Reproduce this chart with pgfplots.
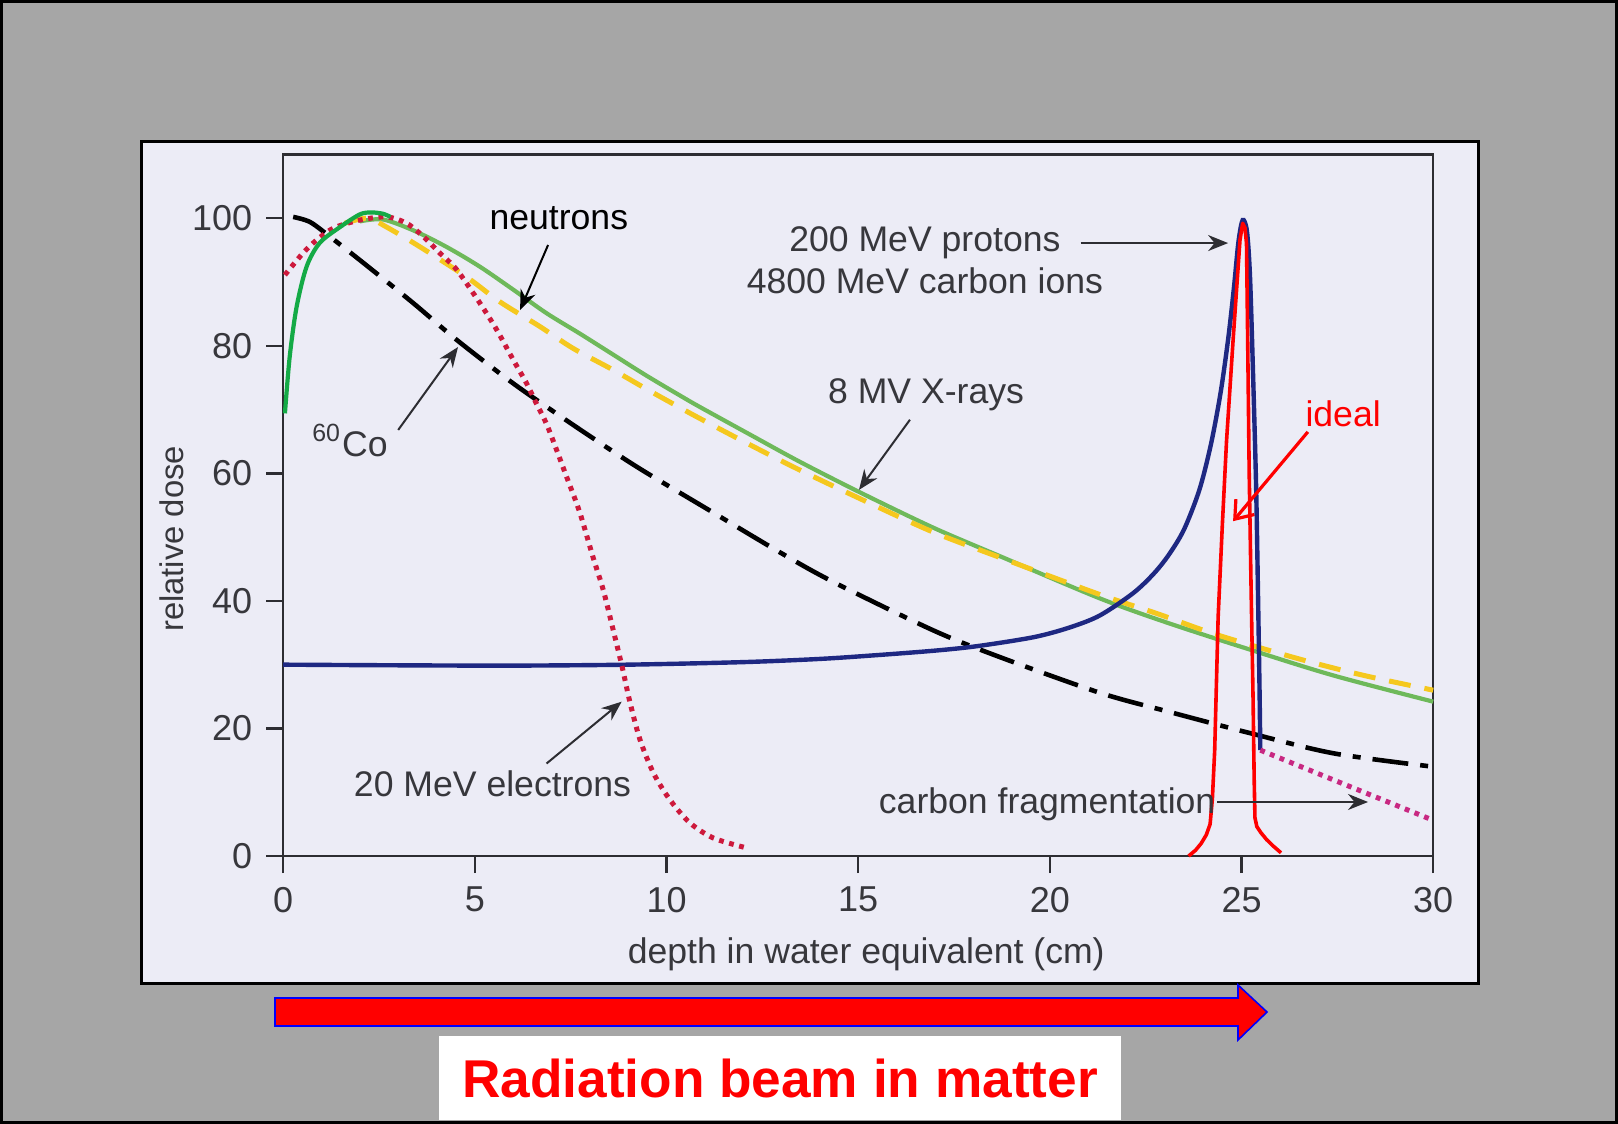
\documentclass[border=0pt]{standalone}
\usepackage{pgfplots}
\pgfplotsset{compat=1.18}
\usepackage{fontspec}
\setmainfont{Liberation Sans}
\usetikzlibrary{arrows.meta}

\definecolor{bggray}{RGB}{166,166,166}
\definecolor{panel}{RGB}{236,236,246}
\definecolor{textgray}{RGB}{55,55,60}
\definecolor{axisgray}{RGB}{45,45,50}
\definecolor{xgreen}{RGB}{110,185,90}
\definecolor{xgreendark}{RGB}{20,170,70}
\definecolor{nyellow}{RGB}{245,200,30}
\definecolor{ecrimson}{RGB}{205,25,60}
\definecolor{pnavy}{RGB}{30,40,130}
\definecolor{cmagenta}{RGB}{200,40,130}

\newcommand{\annfont}{\fontsize{8.9pt}{10pt}\selectfont}

\begin{document}
\begin{tikzpicture}
% slide background, panel and beam arrow (1 px = 0.25pt)
\begin{scope}[x=0.25pt,y=-0.25pt]
  \fill[bggray] (0,0) rectangle (1618,1124);
  \draw[black,line width=0.75pt] (1.5,1.5) rectangle (1616.5,1122.5);
  \filldraw[fill=panel,draw=black,line width=0.75pt] (141,141) rectangle (1478,983);
  \filldraw[fill=red,draw=blue,line width=0.4pt]
    (275,998) -- (1238,998) -- (1238,985) -- (1267,1012) -- (1238,1040)
    -- (1238,1026) -- (275,1026) -- cycle;
  \fill[white] (439,1036) rectangle (1121,1120);
  \node[text=red,font=\fontsize{13.3pt}{15pt}\selectfont\bfseries] at (780,1078) {Radiation beam in matter};
\end{scope}

\begin{axis}[
  at={(70.8pt,-214pt)}, anchor=south west,
  scale only axis, width=287.5pt, height=175.4pt,
  xmin=0, xmax=30, ymin=0, ymax=110,
  xtick={0,5,...,30}, ytick={0,20,...,100},
  xtick pos=bottom, ytick pos=left,
  tick align=outside, major tick length=4.25pt,
  axis line style={line width=0.6pt,draw=axisgray},
  tick style={line width=0.6pt,draw=axisgray},
  ticklabel style={font=\fontsize{9pt}{10pt}\selectfont,text=textgray},
  /pgf/number format/assume math mode=true,
  xlabel={depth in water equivalent (cm)},
  ylabel={relative dose},
  xlabel style={at={(axis description cs:0.507,-0.1405)},anchor=center,
    font=\fontsize{8.9pt}{10pt}\selectfont,text=textgray},
  ylabel style={at={(axis description cs:-0.0968,0.452)},anchor=center,
    font=\fontsize{8.2pt}{10pt}\selectfont,text=textgray},
  clip=false,
]
% 8 MV X-rays, tail
\addplot[xgreen,line width=1.05pt,smooth] coordinates {
  (2.0,99.5)(2.6,99.8)(3.39,98.1)(4.26,95.5)(5.13,92.4)(6.0,88.8)(6.87,85.1)
  (7.74,81.9)(8.61,78.6)(9.48,75.3)(10.35,72.2)(10.87,70.4)(12.2,66.0)(13.48,61.8)
  (15.05,57.0)(16.95,51.5)(18.7,47.0)(21.3,40.4)(23.05,36.6)(25.2,32.4)(27.4,28.3)(30,24.2)};
% neutrons
\addplot[nyellow,line width=1.25pt,smooth,dash pattern=on 5.5pt off 3.5pt] coordinates {
  (1.6,99.2)(2.2,100.0)(2.7,98.6)(3.57,95.5)(4.78,90.8)(5.65,86.9)(6.7,83.0)
  (7.56,79.6)(8.61,76.2)(9.48,73.2)(10.35,70.3)(10.87,68.6)(12.2,64.4)(13.48,60.5)
  (15.2,55.6)(16.95,50.8)(18.7,46.8)(21.3,41.0)(22.8,38.0)(24.35,34.7)(26.5,30.9)
  (28.2,28.3)(30,26.0)};
% 60Co
\addplot[black,line width=1.15pt,smooth,dash pattern=on 9pt off 3pt on 2pt off 3pt] coordinates {
  (0.26,100.2)(0.7,99.4)(1.22,97.1)(2.09,93.0)(3.39,86.7)(4.53,80.9)(6.0,74.1)
  (7.39,68.3)(8.61,63.4)(9.5,60.0)(11.23,53.8)(12.96,47.6)(14.34,43.0)(16.95,35.4)
  (18.69,31.2)(21.3,25.6)(23.05,22.7)(25.2,19.3)(27.4,16.1)(30,14.0)};
% protons
\addplot[pnavy,line width=1.1pt,smooth] coordinates {
  (0,30.0)(3,29.9)(6,29.85)(9,30.0)(12,30.4)(14,30.9)(15.5,31.5)(17,32.2)(18.1,32.9)
  (19.57,34.3)(20.5,35.8)(21.3,37.7)(22.17,41.2)(22.7,44.2)(23.1,47.2)(23.5,51.2)
  (23.9,57.4)(24.2,64.5)(24.45,72.5)(24.65,81)(24.8,89)(24.92,96.3)(25.03,99.7)
  (25.14,98.0)(25.22,91)(25.3,75.7)(25.38,58)(25.43,41)(25.47,26)(25.49,16.6)};
% 20 MeV electrons
\addplot[ecrimson,line width=1.25pt,smooth,dash pattern=on 1.2pt off 1.4pt] coordinates {
  (0.045,91.1)(0.44,94.0)(0.78,96.1)(1.3,98.4)(2.0,99.7)(2.7,100.2)(3.22,99.2)
  (3.66,97.1)(4.09,94.5)(4.53,91.9)(5.13,86.7)(5.57,82.5)(6.0,77.8)(6.35,74.1)
  (6.6,71.0)(6.9,67.3)(7.39,59.5)(7.74,53.8)(8.08,46.9)(8.35,41.7)(8.61,35.4)
  (8.84,29.7)(9.05,24.0)(9.31,18.2)(9.66,13.0)(10.09,8.8)(10.61,5.2)(11.23,2.8)(12.1,1.25)};
% 8 MV X-rays, build-up
\addplot[xgreendark,line width=1.05pt,smooth] coordinates {
  (0.045,69.4)(0.17,78.3)(0.35,86.1)(0.61,92.4)(0.95,96.1)(1.48,98.6)(2.0,100.6)
  (2.3,100.9)(2.6,100.7)(2.8,100.2)};
% carbon fragmentation tail
\addplot[cmagenta,line width=1.25pt,dash pattern=on 1.2pt off 1.4pt] coordinates {
  (25.49,16.6)(27.7,11.2)(30,5.6)};
% ideal
\addplot[red,line width=0.9pt,line join=round] coordinates {
  (23.62,0)(23.8,0.9)(23.95,2.0)(24.08,3.3)(24.18,5.0)(24.24,9)(24.3,16.6)(24.39,37.5)
  (24.5,52)(24.61,65.2)(24.78,80.9)(24.96,96.6)(25.03,99.2)(25.09,98.5)(25.13,96.0)
  (25.16,81)(25.2,60)(25.25,41.7)(25.3,25)(25.33,12)(25.35,6.0)(25.4,4.6)(25.5,3.7)
  (25.65,2.6)(25.82,1.6)(26.03,0.5)};

% annotations
\node[font=\annfont,text=black,anchor=center] at (axis cs:7.19,100.05) {neutrons};
\draw[black,line width=0.5pt,-{Stealth[length=5pt,width=4pt]}] (axis cs:6.91,95.8) -- (axis cs:6.18,85.6);
\node[font=\annfont,text=textgray,anchor=base west,inner sep=0pt] at (axis cs:0.74,62.6) {\textsuperscript{60}Co};
\draw[axisgray,line width=0.5pt,-{Stealth[length=5pt,width=4pt]}] (axis cs:3.0,66.8) -- (axis cs:4.56,79.8);
\node[font=\annfont,text=textgray,anchor=base,inner sep=0pt] at (axis cs:16.74,94.76) {200 MeV protons};
\node[font=\annfont,text=textgray,anchor=base,inner sep=0pt] at (axis cs:16.74,88.24) {4800 MeV carbon ions};
\draw[axisgray,line width=0.5pt,-{Stealth[length=5pt,width=4pt]}] (axis cs:20.8,96.1) -- (axis cs:24.65,96.1);
\node[font=\annfont,text=textgray,anchor=base,inner sep=0pt] at (axis cs:16.77,71.0) {8 MV X-rays};
\draw[axisgray,line width=0.5pt,-{Stealth[length=5pt,width=4pt]}] (axis cs:16.35,68.4) -- (axis cs:15.02,57.4);
\node[font=\annfont,text=red,anchor=base,inner sep=0pt] at (axis cs:27.65,67.3) {ideal};
\draw[red,line width=0.8pt,-{Straight Barb[length=4pt,width=6pt]}] (axis cs:26.73,66.5) -- (axis cs:24.78,52.5);
\node[font=\annfont,text=textgray,anchor=base,inner sep=0pt] at (axis cs:5.46,9.3) {20 MeV electrons};
\draw[axisgray,line width=0.5pt,-{Stealth[length=5pt,width=4pt]}] (axis cs:6.87,14.5) -- (axis cs:8.83,24.2);
\node[font=\annfont,text=textgray,anchor=base west,inner sep=0pt] at (axis cs:15.52,6.7) {carbon fragmentation};
\draw[axisgray,line width=0.5pt,-{Stealth[length=5pt,width=4pt]}] (axis cs:24.37,8.47) -- (axis cs:28.3,8.47);
\end{axis}
\pgfresetboundingbox
\path[use as bounding box] (0,0) rectangle (404.5pt,-281pt);
\end{tikzpicture}
\end{document}
